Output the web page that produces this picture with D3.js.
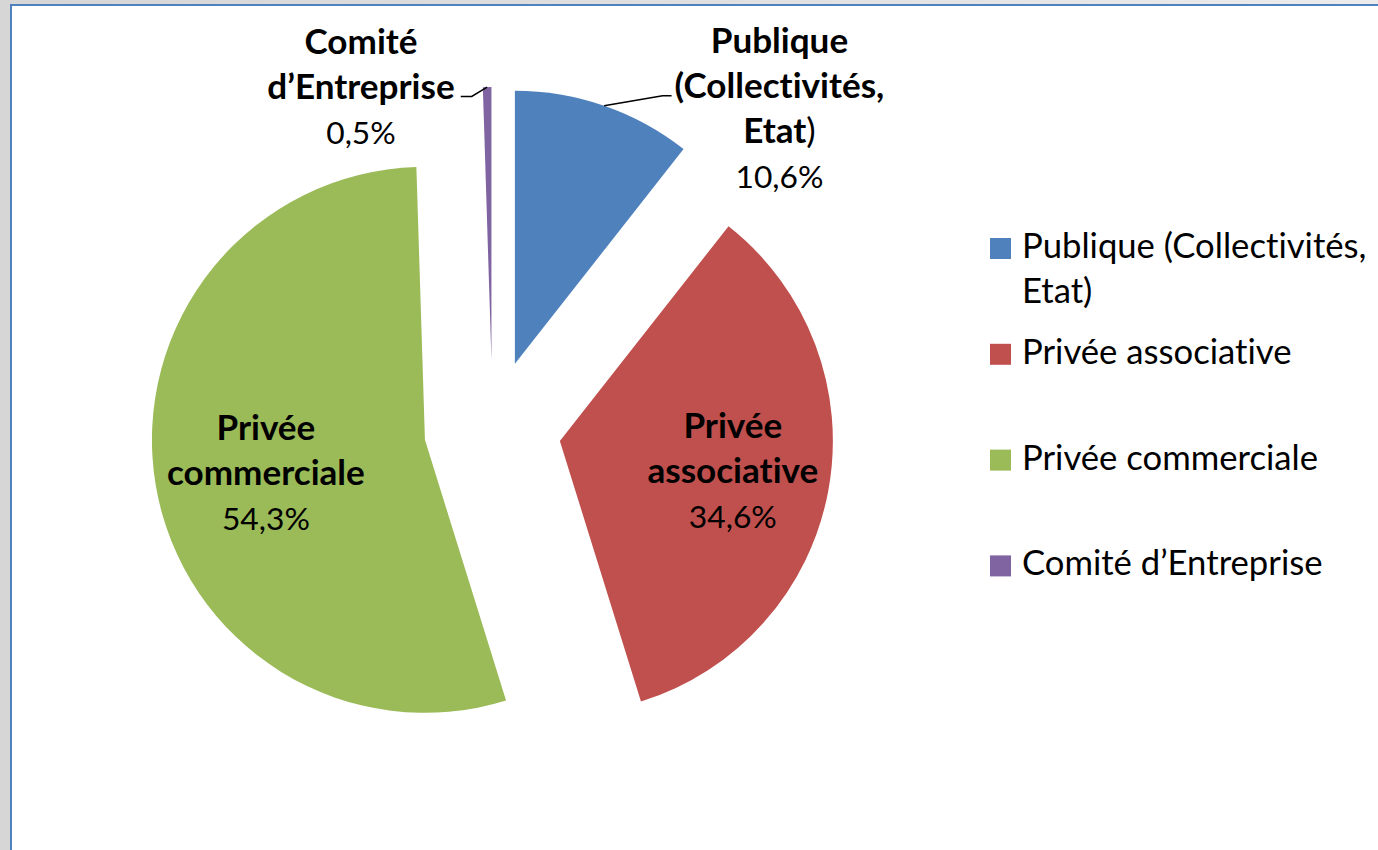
<!DOCTYPE html>
<html><head><meta charset="utf-8">
<script src="https://cdn.jsdelivr.net/npm/d3@7"></script>
<style>
html,body{margin:0;padding:0;background:#dcdcdc;overflow:hidden;}
svg{display:block;}
text{font-variant-ligatures:none;font-feature-settings:"liga" 0,"clig" 0,"dlig" 0;}
</style></head><body>
<svg id="chart" width="1378" height="850"></svg>
<script>
// ---- data ----
const categories = ["Publique (Collectivités, Etat)", "Privée associative", "Privée commerciale", "Comité d’Entreprise"];
const values = [10.6, 34.6, 54.3, 0.5];

// ---- styles / layout ----
const colors = ["#4F81BD", "#C0504D", "#9BBB59", "#8064A2"];
const FONT = "Lato, 'Open Sans', sans-serif";
const W = 1378, H = 850;
const cx = 492.5, cy = 428.5, R = 273, explode = 68.5;
const lineH = 45;

const fr = d3.formatLocale({decimal: ",", thousands: " ", grouping: [3], currency: ["", "€"]});
const pct = v => fr.format(".1f")(v) + "%";

const data = categories.map((c, i) => ({name: c, value: values[i], i}));
const svg = d3.select("#chart");

// text measuring helper
const meas = svg.append("text").attr("font-family", FONT).attr("font-size", 100).attr("visibility", "hidden");
function width(str, weight, size) {
  meas.attr("font-weight", weight).text(str);
  return meas.node().getComputedTextLength() * size / 100;
}
const boldSize = 100 * 198 / width("commerciale", "bold", 100);
const regSize = 100 * 88 / width("54,3%", "normal", 100);
const legSize = 100 * 296 / width("Privée commerciale", "normal", 100);

function wrap(str, weight, size, maxW) {
  const words = str.split(" ");
  const lines = [];
  let cur = "";
  words.forEach(w => {
    const t = cur ? cur + " " + w : w;
    if (cur && width(t, weight, size) > maxW) { lines.push(cur); cur = w; }
    else cur = t;
  });
  if (cur) lines.push(cur);
  return lines;
}

// ---- background & frame ----
const defs = svg.append("defs");
const bg = defs.append("linearGradient").attr("id", "bg").attr("x1", 0).attr("x2", 1).attr("y1", 0).attr("y2", 0);
bg.append("stop").attr("offset", "0%").attr("stop-color", "#d6d6d6");
bg.append("stop").attr("offset", "60%").attr("stop-color", "#e2e2e2");
bg.append("stop").attr("offset", "100%").attr("stop-color", "#ececec");
svg.append("rect").attr("width", W).attr("height", H).attr("fill", "url(#bg)");
svg.append("rect").attr("x", 11).attr("y", 5).attr("width", W + 40).attr("height", H + 40)
  .attr("fill", "#ffffff").attr("stroke", "#4F81BD").attr("stroke-width", 2);

// ---- pie ----
const pie = d3.pie().sort(null).value(d => d.value).startAngle(0).endAngle(2 * Math.PI);
const arcs = pie(data);
const arc = d3.arc().innerRadius(0).outerRadius(R);
const mid = a => (a.startAngle + a.endAngle) / 2;
const polar = (ang, r) => [Math.sin(ang) * r, -Math.cos(ang) * r];
const vertex = a => { const o = polar(mid(a), explode); return [cx + o[0], cy + o[1]]; };

svg.append("g").selectAll("path").data(arcs).join("path")
  .attr("transform", d => `translate(${vertex(d)})`)
  .attr("d", arc)
  .attr("fill", d => colors[d.data.i]);

// ---- data labels ----
const deg = Math.PI / 180;
// label placement: inside labels relative to slice vertex, outside labels relative to pie center
const labelLayout = [
  {outside: true, ang: 41.8, r: 430.5, side: "left"},
  {outside: false, dAng: -0.7, r: 175.5},
  {outside: false, dAng: -2.1, r: 162.4},
  {outside: true, ang: -21, r: 367, side: "right"}
];
const capH = boldSize * 0.72;
const lblG = svg.append("g").attr("font-family", FONT).attr("fill", "#000");
arcs.forEach(a => {
  const L = labelLayout[a.data.i];
  let pos;
  if (L.outside) {
    const o = polar(L.ang * deg, L.r); pos = [cx + o[0], cy + o[1]];
  } else {
    const v = vertex(a); const o = polar(mid(a) + L.dAng * deg, L.r); pos = [v[0] + o[0], v[1] + o[1]];
  }
  const lines = wrap(a.data.name, "bold", boldSize, 215);
  const n = lines.length + 1;
  const firstBase = pos[1] - (n - 1) * lineH / 2 + capH / 2;
  const t = lblG.append("text").attr("text-anchor", "middle");
  lines.forEach((ln, k) => {
    const y = firstBase + k * lineH;
    if (ln.endsWith(")")) {
      const ts = t.append("tspan").attr("x", pos[0]).attr("y", y);
      ts.append("tspan").attr("font-weight", "bold").attr("font-size", boldSize).text(ln.slice(0, -1));
      ts.append("tspan").attr("font-weight", "normal").attr("font-size", boldSize).text(")");
    } else {
      t.append("tspan").attr("x", pos[0]).attr("y", y).attr("font-weight", "bold").attr("font-size", boldSize).text(ln);
    }
  });
  t.append("tspan").attr("x", pos[0]).attr("y", firstBase + lines.length * lineH)
    .attr("font-weight", "normal").attr("font-size", regSize).text(pct(a.data.value));

  if (L.outside) {
    const blockW = d3.max(lines, ln => width(ln, "bold", boldSize));
    const v = vertex(a); const so = polar(mid(a), R);
    const start = [v[0] + so[0], v[1] + so[1]];
    const ey = firstBase + lineH - 2;
    const ex = L.side === "left" ? pos[0] - blockW / 2 - 3 : pos[0] + blockW / 2 + 6;
    const elbow = [L.side === "left" ? ex - 9 : ex + 11, ey];
    lblG.append("path").attr("d", d3.line()([start, elbow, [ex, ey]]))
      .attr("fill", "none").attr("stroke", "#000").attr("stroke-width", 1.5);
  }
});

// ---- legend ----
const legX = 990, legTop = 238, legPitch = 105.8, sq = 21;
const leg = svg.append("g").attr("font-family", FONT).attr("font-size", legSize).attr("fill", "#000");
data.forEach((d, i) => {
  const y0 = legTop + i * legPitch;
  leg.append("rect").attr("x", legX).attr("y", y0).attr("width", sq).attr("height", sq).attr("fill", colors[i]);
  const lines = wrap(d.name, "normal", legSize, 350);
  const t = leg.append("text");
  lines.forEach((ln, k) => t.append("tspan").attr("x", legX + 32).attr("y", y0 + 20 + k * lineH).text(ln));
});
meas.remove();
</script>
</body></html>
